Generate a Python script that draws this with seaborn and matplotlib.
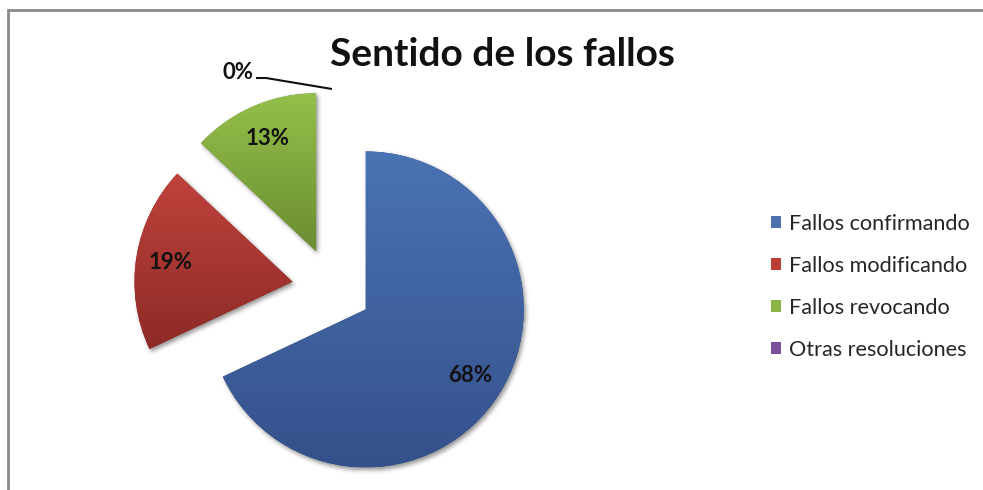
import numpy as np
import matplotlib
matplotlib.use("Agg")
import matplotlib.pyplot as plt
from matplotlib.patches import Patch, Rectangle
from matplotlib.colors import LinearSegmentedColormap
import seaborn as sns

# Data
categories = ["Fallos confirmando", "Fallos modificando", "Fallos revocando", "Otras resoluciones"]
shares = [68, 19, 13, 0]
title = "Sentido de los fallos"

sns.set_theme(style="white")
plt.rcParams["font.family"] = ["Lato", "DejaVu Sans"]

# top / bottom shades used for the vertical gradient of each slice
top_colors = ["#4A73B4", "#C0433C", "#95C04A", "#8462A8"]
bottom_colors = ["#35518B", "#8D2A27", "#6A8D31", "#5E3F80"]
legend_colors = sns.color_palette(["#4A70B0", "#B83D38", "#8AB545", "#7B4F9E"])

W, H = 983, 490
fig = plt.figure(figsize=(W / 100, H / 100), dpi=100)
ax = fig.add_axes([0, 0, 1, 1])

center = (332, H - 288)
radius = 158
explode = [40] * len(shares)

wedges, _, autotexts = ax.pie(
    shares,
    explode=explode,
    center=center,
    radius=radius,
    startangle=90,
    counterclock=False,
    colors=bottom_colors,
    autopct=lambda p: f"{p:.0f}%" if p > 0.5 else "",
    pctdistance=0.78,
    wedgeprops=dict(linewidth=0),
    textprops=dict(fontsize=16, fontweight="bold", color="#111111"),
)
ax.set_xlim(0, W)
ax.set_ylim(0, H)
ax.set_aspect("auto")
ax.axis("off")

# soft drop shadow under the slices
yy, xx = np.mgrid[0:H, 0:W]
pts = np.column_stack([xx.ravel() + 0.5, (H - yy.ravel()) - 0.5])
mask = np.zeros(H * W, dtype=bool)
for w, v in zip(wedges, shares):
    if v > 0:
        mask |= w.get_path().contains_points(pts)
mask = mask.reshape(H, W).astype(float)
mask = np.roll(mask, shift=(3, 2), axis=(0, 1))
k = np.exp(-0.5 * (np.arange(-6, 7) / 2.2) ** 2)
k /= k.sum()
blur = np.apply_along_axis(lambda r: np.convolve(r, k, mode="same"), 1, mask)
blur = np.apply_along_axis(lambda c: np.convolve(c, k, mode="same"), 0, blur)
shadow = np.zeros((H, W, 4))
shadow[..., :3] = 0.25
shadow[..., 3] = blur * 0.55
ax.imshow(shadow, extent=(0, W, 0, H), origin="upper", zorder=0.5, interpolation="bilinear")
for w in wedges:
    w.set_zorder(1)

# vertical gradient inside each slice
for w, v, ct, cb in zip(wedges, shares, top_colors, bottom_colors):
    if v <= 0:
        continue
    ext = w.get_path().get_extents()
    cmap = LinearSegmentedColormap.from_list("g", [cb, ct])
    grad = np.linspace(0, 1, 256).reshape(-1, 1)
    im = ax.imshow(grad, cmap=cmap, origin="lower", aspect="auto",
                   extent=(ext.x0, ext.x1, ext.y0, ext.y1), zorder=1.5)
    im.set_clip_path(w)
for t in autotexts:
    t.set_zorder(3)

# outside label with leader line for the empty slice
for w, v in zip(wedges, shares):
    if v > 0:
        continue
    cx, cy = w.center
    th = np.deg2rad(0.5 * (w.theta1 + w.theta2))
    x0 = cx + w.r * np.cos(th)
    y0 = cy + w.r * np.sin(th)
    ax.plot([x0, x0 - 66, x0 - 76], [y0 + 1, y0 + 12, y0 + 12],
            color="#111111", lw=1.5, zorder=3, solid_capstyle="butt")
    ax.text(x0 - 94, y0 + 17, f"{v}%", ha="center", va="center",
            fontsize=16, fontweight="bold", color="#111111", zorder=3)

# chart area frame
ax.add_patch(Rectangle((8, -20), W + 20, H - 10 + 20, fill=False,
                       edgecolor="#8A8A8A", lw=2, zorder=0))

fig.text(502 / W, (H - 55) / H, title, ha="center", va="center",
         fontsize=28, fontweight="bold", color="#111111")

handles = [Patch(facecolor=c, edgecolor="none") for c in legend_colors]
fig.legend(handles, categories, loc="center left",
           bbox_to_anchor=(762 / W, (H - 287) / H), frameon=False,
           fontsize=15.6, handlelength=0.48, handleheight=0.48, handletextpad=0.35,
           labelspacing=1.02, borderaxespad=0)

fig.savefig("out.png", dpi=100)
